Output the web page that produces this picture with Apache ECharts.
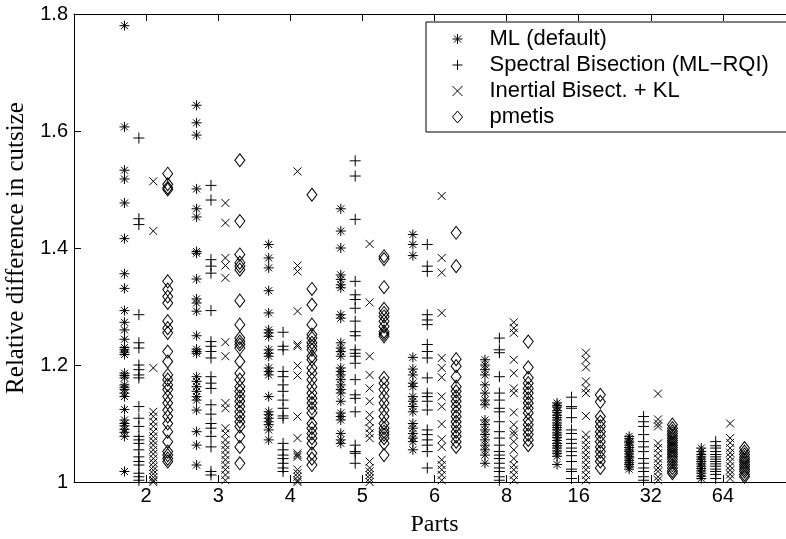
<!DOCTYPE html>
<html>
<head>
<meta charset="utf-8">
<script src="https://cdn.jsdelivr.net/npm/echarts@6/dist/echarts.min.js"></script>
<style>
  html, body { margin: 0; padding: 0; background: #fff; }
  #chart { width: 786px; height: 539px; }
</style>
</head>
<body>
<div id="chart"></div>
<script>
// == Data ====================================================================

const parts = ['2', '3', '4', '5', '6', '8', '16', '32', '64']

const seriesNames = ['ML (default)', 'Spectral Bisection (ML\u2212RQI)', 'Inertial Bisect. + KL', 'pmetis']

// one list of values per number of parts
const ml = [
  [1.78, 1.607, 1.533, 1.518, 1.477, 1.416, 1.356, 1.331, 1.293, 1.273, 1.26, 1.244, 1.23, 1.226, 1.222, 1.218, 1.186, 1.182, 1.178, 1.166, 1.162, 1.158, 1.152, 1.146, 1.124, 1.106, 1.1, 1.096, 1.09, 1.085, 1.078, 1.018],
  [1.644, 1.614, 1.593, 1.501, 1.467, 1.453, 1.394, 1.391, 1.347, 1.313, 1.306, 1.292, 1.25, 1.227, 1.223, 1.22, 1.18, 1.172, 1.163, 1.155, 1.146, 1.14, 1.123, 1.086, 1.063, 1.029],
  [1.406, 1.383, 1.366, 1.327, 1.289, 1.26, 1.255, 1.249, 1.226, 1.22, 1.215, 1.195, 1.189, 1.183, 1.146, 1.12, 1.115, 1.109, 1.103, 1.098, 1.089, 1.072],
  [1.467, 1.429, 1.4, 1.354, 1.346, 1.337, 1.332, 1.286, 1.28, 1.238, 1.229, 1.223, 1.215, 1.195, 1.189, 1.183, 1.175, 1.166, 1.158, 1.152, 1.138, 1.118, 1.112, 1.106, 1.083, 1.072, 1.066],
  [1.423, 1.406, 1.387, 1.213, 1.193, 1.183, 1.169, 1.163, 1.146, 1.138, 1.129, 1.12, 1.1, 1.092, 1.083, 1.075, 1.069, 1.055],
  [1.209, 1.2, 1.192, 1.183, 1.166, 1.152, 1.14, 1.132, 1.106, 1.098, 1.089, 1.081, 1.072, 1.063, 1.055, 1.046, 1.032],
  [1.135, 1.131, 1.128, 1.122, 1.119, 1.114, 1.11, 1.106, 1.101, 1.097, 1.093, 1.089, 1.084, 1.08, 1.076, 1.071, 1.066, 1.062, 1.058, 1.053, 1.049, 1.044, 1.03],
  [1.078, 1.074, 1.07, 1.067, 1.063, 1.059, 1.055, 1.052, 1.048, 1.044, 1.041, 1.037, 1.033, 1.03, 1.026, 1.022],
  [1.058, 1.052, 1.047, 1.043, 1.039, 1.035, 1.031, 1.027, 1.023, 1.019, 1.015, 1.01, 1.006]
]

const spectral = [
  [1.588, 1.45, 1.44, 1.286, 1.238, 1.229, 1.2, 1.192, 1.183, 1.178, 1.129, 1.109, 1.095, 1.078, 1.072, 1.066, 1.055, 1.043, 1.035, 1.029, 1.015, 1.009, 1.003],
  [1.507, 1.482, 1.38, 1.369, 1.357, 1.293, 1.24, 1.232, 1.223, 1.212, 1.18, 1.169, 1.16, 1.132, 1.116, 1.1, 1.092, 1.078, 1.06, 1.018, 1.012],
  [1.256, 1.232, 1.226, 1.189, 1.18, 1.166, 1.155, 1.14, 1.126, 1.113, 1.109, 1.066, 1.055, 1.046, 1.04, 1.032, 1.024, 1.018],
  [1.549, 1.523, 1.449, 1.343, 1.32, 1.312, 1.297, 1.275, 1.257, 1.25, 1.226, 1.22, 1.215, 1.203, 1.175, 1.149, 1.143, 1.12, 1.063, 1.052, 1.049, 1.032],
  [1.406, 1.369, 1.36, 1.286, 1.277, 1.269, 1.235, 1.223, 1.212, 1.178, 1.152, 1.146, 1.138, 1.123, 1.089, 1.081, 1.072, 1.063, 1.052, 1.024],
  [1.246, 1.226, 1.221, 1.18, 1.152, 1.14, 1.126, 1.12, 1.103, 1.086, 1.075, 1.063, 1.052, 1.046, 1.04, 1.032, 1.024, 1.018, 1.009, 1.003],
  [1.145, 1.129, 1.126, 1.11, 1.089, 1.083, 1.073, 1.066, 1.058, 1.052, 1.045, 1.035, 1.022, 1.018, 1.006],
  [1.112, 1.103, 1.095, 1.081, 1.069, 1.06, 1.052, 1.04, 1.032, 1.024, 1.018, 1.009, 1.003],
  [1.069, 1.062, 1.058, 1.052, 1.047, 1.043, 1.039, 1.035, 1.031, 1.027, 1.022, 1.018, 1.013, 1.006]
]

const inertial = [
  [1.514, 1.429, 1.195, 1.12, 1.112, 1.103, 1.095, 1.086, 1.078, 1.07, 1.063, 1.055, 1.048, 1.04, 1.033, 1.026, 1.02, 1.014, 1.008, 1.003, 1.0],
  [1.477, 1.443, 1.383, 1.37, 1.349, 1.239, 1.215, 1.135, 1.126, 1.092, 1.083, 1.072, 1.063, 1.055, 1.046, 1.038, 1.029, 1.021, 1.012, 1.003],
  [1.531, 1.37, 1.36, 1.292, 1.235, 1.232, 1.199, 1.182, 1.112, 1.075, 1.049, 1.046, 1.043, 1.021, 1.015, 1.009, 1.003, 1.0],
  [1.407, 1.307, 1.215, 1.183, 1.16, 1.138, 1.115, 1.103, 1.092, 1.083, 1.075, 1.035, 1.024, 1.018, 1.012, 1.006, 1.0],
  [1.489, 1.383, 1.358, 1.289, 1.212, 1.195, 1.179, 1.146, 1.129, 1.099, 1.073, 1.06, 1.038, 1.029, 1.021, 1.012, 1.003],
  [1.273, 1.263, 1.255, 1.209, 1.186, 1.16, 1.152, 1.119, 1.098, 1.086, 1.081, 1.069, 1.055, 1.04, 1.029, 1.021, 1.012, 1.003],
  [1.221, 1.209, 1.196, 1.172, 1.16, 1.152, 1.113, 1.081, 1.072, 1.063, 1.055, 1.046, 1.038, 1.029, 1.021, 1.012, 1.003],
  [1.151, 1.107, 1.1, 1.095, 1.066, 1.058, 1.049, 1.04, 1.032, 1.024, 1.018, 1.009, 1.003],
  [1.1, 1.075, 1.067, 1.058, 1.05, 1.043, 1.035, 1.027, 1.02, 1.013, 1.006]
]

const pmetis = [
  [1.527, 1.509, 1.503, 1.5, 1.343, 1.329, 1.317, 1.306, 1.275, 1.263, 1.255, 1.223, 1.206, 1.183, 1.175, 1.166, 1.158, 1.146, 1.135, 1.123, 1.112, 1.1, 1.086, 1.069, 1.052, 1.046, 1.04, 1.035],
  [1.55, 1.446, 1.389, 1.375, 1.369, 1.363, 1.31, 1.269, 1.246, 1.24, 1.235, 1.229, 1.206, 1.186, 1.175, 1.163, 1.155, 1.146, 1.138, 1.129, 1.12, 1.112, 1.103, 1.095, 1.078, 1.06, 1.032],
  [1.491, 1.33, 1.303, 1.269, 1.252, 1.246, 1.238, 1.232, 1.226, 1.215, 1.209, 1.195, 1.186, 1.175, 1.163, 1.152, 1.143, 1.135, 1.126, 1.118, 1.1, 1.092, 1.083, 1.075, 1.066, 1.049, 1.04, 1.029],
  [1.386, 1.381, 1.333, 1.296, 1.289, 1.283, 1.275, 1.266, 1.257, 1.253, 1.249, 1.178, 1.169, 1.158, 1.146, 1.135, 1.123, 1.112, 1.1, 1.092, 1.086, 1.081, 1.075, 1.066, 1.046],
  [1.426, 1.369, 1.21, 1.198, 1.18, 1.163, 1.155, 1.146, 1.138, 1.129, 1.12, 1.112, 1.103, 1.095, 1.086, 1.078, 1.069, 1.06],
  [1.24, 1.196, 1.178, 1.169, 1.16, 1.152, 1.143, 1.135, 1.126, 1.118, 1.106, 1.098, 1.089, 1.081, 1.072, 1.063],
  [1.149, 1.137, 1.112, 1.103, 1.095, 1.086, 1.078, 1.069, 1.06, 1.052, 1.043, 1.035, 1.024],
  [1.098, 1.092, 1.087, 1.083, 1.079, 1.075, 1.071, 1.067, 1.063, 1.059, 1.055, 1.051, 1.047, 1.043, 1.039, 1.034, 1.029, 1.024, 1.019, 1.015],
  [1.058, 1.052, 1.047, 1.042, 1.038, 1.034, 1.03, 1.026, 1.022, 1.018, 1.013, 1.009]
]

// horizontal shift of each method inside a group of parts
const offsets = [-0.3, -0.1, 0.1, 0.3]

// == Markers =================================================================

const ASTERISK = 'path://M5 0L5 10M0 5L10 5M1.5 1.5L8.5 8.5M8.5 1.5L1.5 8.5'
const PLUS = 'path://M5 0L5 10M0 5L10 5'
const CROSS = 'path://M0 0L10 10M10 0L0 10'

const markers = [
  {symbol: ASTERISK, size: 10},
  {symbol: PLUS, size: 11},
  {symbol: CROSS, size: 8},
  {symbol: 'diamond', size: [10, 13]}
]

const AXIS_FONT = 'Liberation Sans, Arial, sans-serif'
const TITLE_FONT = 'Liberation Serif, Times New Roman, serif'

function points (groups, offset) {
  return groups.flatMap((vals, i) => vals.map(v => [i + 1 + offset, v]))
}

const chart = echarts.init(document.getElementById('chart'), null, {renderer: 'canvas'})

const xAxisBase = {
  type: 'value',
  min: 0,
  max: 10,
  interval: 1,
  splitLine: {show: false},
  axisLine: {lineStyle: {color: '#000', width: 1}},
  axisTick: {inside: true, length: 7, lineStyle: {color: '#000'}}
}

chart.setOption({
  animation: false,
  backgroundColor: '#fff',
  grid: {left: 74, top: 14, right: -9, bottom: 57, outerBoundsMode: 'none'},
  xAxis: [
    Object.assign({}, xAxisBase, {
      position: 'bottom',
      name: 'Parts',
      nameLocation: 'middle',
      nameGap: 31,
      nameTextStyle: {fontFamily: TITLE_FONT, fontSize: 24, color: '#000'},
      axisLabel: {
        margin: 4,
        fontFamily: AXIS_FONT,
        fontSize: 20,
        color: '#000',
        formatter: v => parts[v - 1] || ''
      }
    }),
    Object.assign({}, xAxisBase, {
      position: 'top',
      axisLabel: {show: false}
    })
  ],
  yAxis: {
    type: 'value',
    min: 1,
    max: 1.8,
    interval: 0.2,
    name: 'Relative difference in cutsize',
    nameLocation: 'middle',
    nameGap: 33,
    nameTextStyle: {fontFamily: TITLE_FONT, fontSize: 25, color: '#000'},
    splitLine: {show: false},
    axisLine: {show: true, lineStyle: {color: '#000', width: 1}},
    axisTick: {show: true, inside: true, length: 7, lineStyle: {color: '#000'}},
    axisLabel: {margin: 6, fontFamily: AXIS_FONT, fontSize: 20, color: '#000'}
  },
  legend: {
    orient: 'vertical',
    left: 426,
    top: 22,
    padding: [6, 30, 4, 26],
    itemGap: 4,
    itemWidth: 10,
    itemHeight: 12,
    borderColor: '#000',
    borderWidth: 1,
    backgroundColor: '#fff',
    selectedMode: false,
    itemStyle: {borderWidth: 1},
    textStyle: {fontFamily: AXIS_FONT, fontSize: 22, color: '#000', lineHeight: 22, padding: [0, 0, 0, 22]},
    data: seriesNames
  },
  series: [ml, spectral, inertial, pmetis].map((groups, k) => ({
    name: seriesNames[k],
    type: 'scatter',
    xAxisIndex: 0,
    symbol: markers[k].symbol,
    symbolSize: markers[k].size,
    clip: false,
    silent: true,
    itemStyle: {color: 'rgba(0,0,0,0)', borderColor: '#000', borderWidth: 1, opacity: 1},
    emphasis: {disabled: true},
    data: points(groups, offsets[k])
  }))
})
</script>
</body>
</html>
